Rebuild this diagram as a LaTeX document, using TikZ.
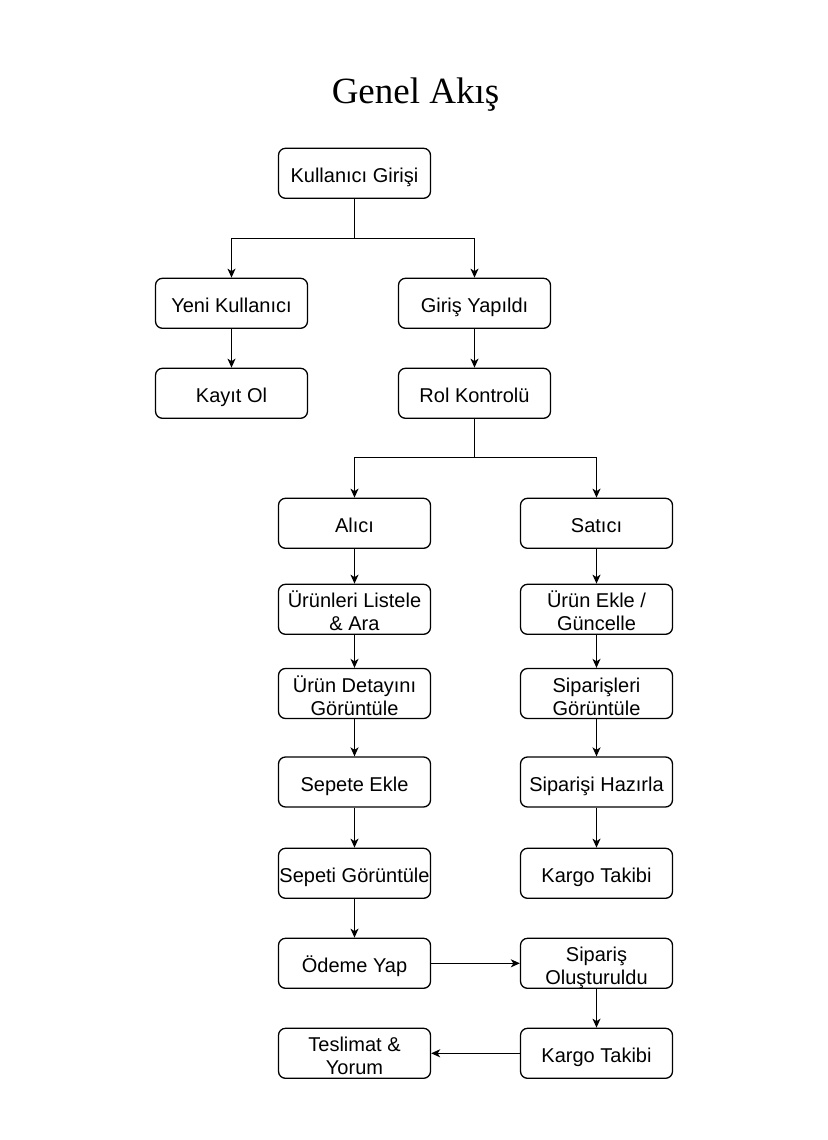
\documentclass[tikz,border=0pt]{standalone}
\usepackage{fontspec}
\setmainfont{Liberation Sans}
\newfontfamily\titlefont{Liberation Serif}
\usetikzlibrary{arrows.meta}
\tikzset{
  box/.style={draw=black, line width=1.3pt, rounded corners=7pt, minimum width=152pt, minimum height=50pt,
    inner sep=0pt, align=center, font=\fontsize{20}{23}\selectfont, fill=white,
    text height=20pt, text depth=2pt},
  twoline/.style={box, text height=45pt, text depth=2pt},
  conn/.style={draw=black, line width=1.3pt},
  arr/.style={conn, -{Stealth[length=9pt,width=8pt,inset=2.5pt]}},
}
\begin{document}
\begin{tikzpicture}[x=1pt,y=-1pt]
\useasboundingbox (0,0) rectangle (827,1140);
\fill[white] (0,0) rectangle (827,1140);
\node[anchor=base, font=\titlefont\fontsize{37}{40}\selectfont] (title) at (415.5,103.5) {Genel Akış};
% row 1-3
\node[box] (k) at (354.5,173.3) {Kullanıcı Girişi};
\node[box] (yeni) at (231.5,303.3) {Yeni Kullanıcı};
\node[box] (giris) at (474.5,303.3) {Giriş Yapıldı};
\node[box] (kayit) at (231.5,393.3) {Kayıt Ol};
\node[box] (rol) at (474.5,393.3) {Rol Kontrolü};
% left column
\node[box] (alici) at (354.5,523.3) {Alıcı};
\node[twoline] (listele) at (354.5,609.3) {Ürünleri Listele\\\& Ara};
\node[twoline] (detay) at (354.5,693.5) {Ürün Detayını\\Görüntüle};
\node[box] (sepete) at (354.5,782) {Sepete Ekle};
\node[box] (sepeti) at (354.5,873.3) {Sepeti Görüntüle};
\node[box] (odeme) at (354.5,963.3) {Ödeme Yap};
\node[twoline] (teslim) at (354.5,1053.3) {Teslimat \&\\Yorum};
% right column
\node[box] (satici) at (596.5,523.3) {Satıcı};
\node[twoline] (ekle) at (596.5,609.3) {Ürün Ekle /\\Güncelle};
\node[twoline] (siparisler) at (596.5,693.5) {Siparişleri\\Görüntüle};
\node[box] (hazirla) at (596.5,782) {Siparişi Hazırla};
\node[box] (kargo1) at (596.5,873.3) {Kargo Takibi};
\node[twoline] (olustu) at (596.5,963.3) {Sipariş\\Oluşturuldu};
\node[box] (kargo2) at (596.5,1053.3) {Kargo Takibi};
% connectors
\coordinate (j1) at (354.5,238.3);
\coordinate (j2) at (474.5,457.7);
\draw[conn] (k.south) -- (j1);
\draw[arr] (j1) -| (yeni.north);
\draw[arr] (j1) -| (giris.north);
\draw[arr] (yeni) -- (kayit);
\draw[arr] (giris) -- (rol);
\draw[conn] (rol.south) -- (j2);
\draw[arr] (j2) -| (alici.north);
\draw[arr] (j2) -| (satici.north);
\draw[arr] (alici) -- (listele);
\draw[arr] (listele) -- (detay);
\draw[arr] (detay) -- (sepete);
\draw[arr] (sepete) -- (sepeti);
\draw[arr] (sepeti) -- (odeme);
\draw[arr] (satici) -- (ekle);
\draw[arr] (ekle) -- (siparisler);
\draw[arr] (siparisler) -- (hazirla);
\draw[arr] (hazirla) -- (kargo1);
\draw[arr] (odeme) -- (olustu);
\draw[arr] (olustu) -- (kargo2);
\draw[arr] (kargo2) -- (teslim);
\end{tikzpicture}
\end{document}
